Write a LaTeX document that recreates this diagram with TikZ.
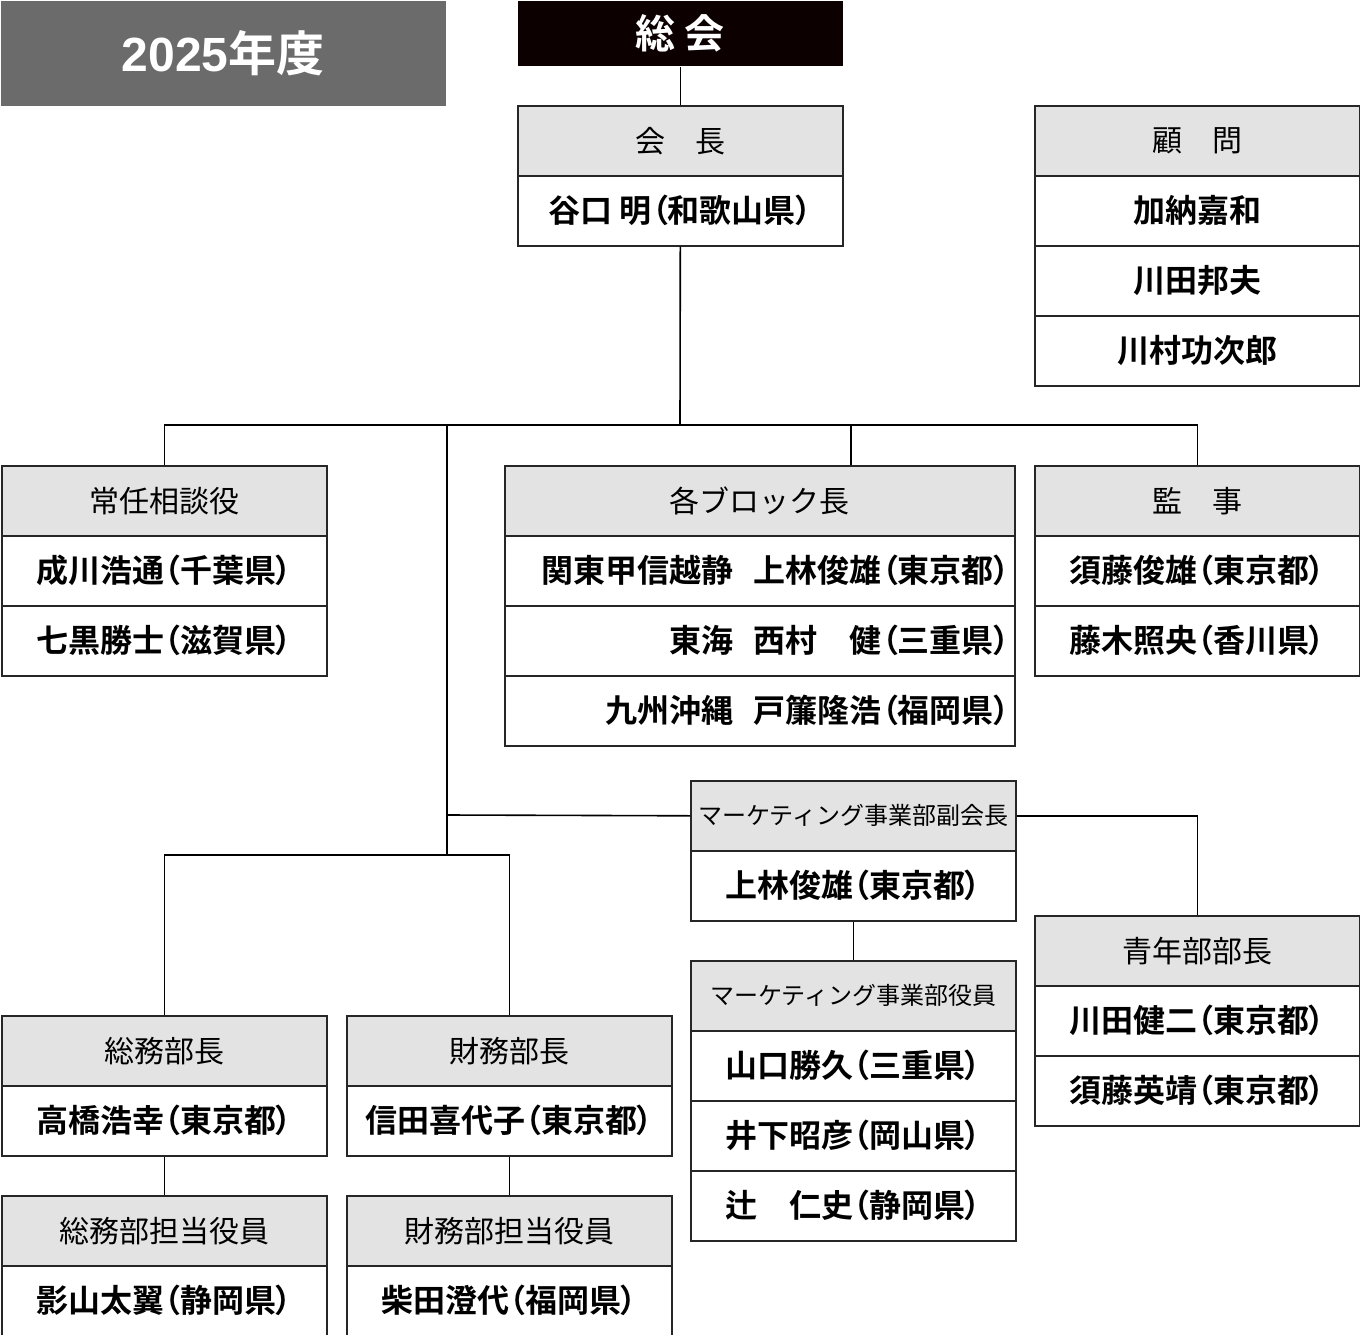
\documentclass[tikz,border=0pt]{standalone}
\usepackage{fontspec}
\newfontfamily\jp{Noto Sans CJK JP}
\newfontfamily\jpb[RawFeature=+palt]{Noto Sans CJK JP Bold}
\newfontfamily\yr{Liberation Sans}
\begin{document}
\begin{tikzpicture}[x=1pt,y=-1pt,line width=1.6pt,
 bx/.style={draw=black!85,line width=1.6pt,anchor=north west,inner sep=0pt,minimum height=70pt,minimum width=325pt},
 hd/.style={bx,fill=black!11,font=\jp\fontsize{30}{30}\selectfont},
 hs/.style={bx,fill=black!11,font=\jp\fontsize{24}{24}\selectfont},
 rw/.style={bx,fill=white,font=\jpb\fontsize{32}{32}\selectfont},
 wide/.style={minimum width=510pt},
 rt/.style={text width=500pt,align=right}]
\useasboundingbox (0,0) rectangle (1360,1335);
\node[anchor=north west,fill=black!58,minimum width=445pt,minimum height=105pt,inner sep=0,text=white,font=\jpb\fontsize{48}{48}\selectfont] (year) at (0,0) {{\yr\bfseries 2025}年度};
\node[anchor=north west,fill=black!88!red!40!black,minimum width=325pt,minimum height=65pt,inner sep=0,text=white,font=\jpb\fontsize{40}{40}\selectfont] (sokai) at (517,0) {総\ 会};
% kaicho
\node[hd] (kh) at (517,105) {会　長};
\node[rw] (kr) at (517,175) {谷口 明（和歌山県）};
% komon
\node[hd] (mh) at (1034,105) {顧　問};
\node[rw] (m1) at (1034,175) {加納嘉和};
\node[rw] (m2) at (1034,245) {川田邦夫};
\node[rw] (m3) at (1034,315) {川村功次郎};
% jonin
\node[hd] (jh) at (1,465) {常任相談役};
\node[rw] (j1) at (1,535) {成川浩通（千葉県）};
\node[rw] (j2) at (1,605) {七黒勝士（滋賀県）};
% block
\node[hd,wide] (bh) at (504,465) {各ブロック長};
\node[rw,wide,rt] (b1) at (504,535) {関東甲信越静\hspace{20pt}上林俊雄（東京都）};
\node[rw,wide,rt] (b2) at (504,605) {東海\hspace{20pt}西村\hspace{32pt}健（三重県）};
\node[rw,wide,rt] (b3) at (504,675) {九州沖縄\hspace{20pt}戸簾隆浩（福岡県）};
% kanji
\node[hd] (ah) at (1034,465) {監　事};
\node[rw] (a1) at (1034,535) {須藤俊雄（東京都）};
\node[rw] (a2) at (1034,605) {藤木照央（香川県）};
% marketing fuku
\node[hs] (fh) at (690,780) {マーケティング事業部副会長};
\node[rw] (f1) at (690,850) {上林俊雄（東京都）};
% seinen
\node[hd] (sh) at (1034,915) {青年部部長};
\node[rw] (s1) at (1034,985) {川田健二（東京都）};
\node[rw] (s2) at (1034,1055) {須藤英靖（東京都）};
% marketing yakuin
\node[hs] (yh) at (690,960) {マーケティング事業部役員};
\node[rw] (y1) at (690,1030) {山口勝久（三重県）};
\node[rw] (y2) at (690,1100) {井下昭彦（岡山県）};
\node[rw] (y3) at (690,1170) {辻\hspace{32pt}仁史（静岡県）};
% somu
\node[hd] (gh) at (1,1015) {総務部長};
\node[rw] (g1) at (1,1085) {高橋浩幸（東京都）};
\node[hd] (gth) at (1,1195) {総務部担当役員};
\node[rw] (gt1) at (1,1265) {影山太翼（静岡県）};
% zaimu
\node[hd] (zh) at (346,1015) {財務部長};
\node[rw] (z1) at (346,1085) {信田喜代子（東京都）};
\node[hd] (zth) at (346,1195) {財務部担当役員};
\node[rw] (zt1) at (346,1265) {柴田澄代（福岡県）};
% connectors
\coordinate (c0) at (680,425);
\coordinate (c1) at (447,425);
\coordinate (c2) at (447,815);
\coordinate (c3) at (447,855);
\draw (sokai.south) -- (kh.north);
\draw (kr.south) -- (c0);
\draw (jh.north) |- (c0);
\draw (ah.north) |- (c0);
\draw (851,465) -- (851,425);
\draw (c1) -- (c3);
\draw (c2) -- (fh.west);
\draw (fh.east) -| (sh.north);
\draw (f1.south) -- (yh.north);
\draw (gh.north) |- (c3) -| (zh.north);
\draw (g1.south) -- (gth.north);
\draw (z1.south) -- (zth.north);
\end{tikzpicture}
\end{document}
